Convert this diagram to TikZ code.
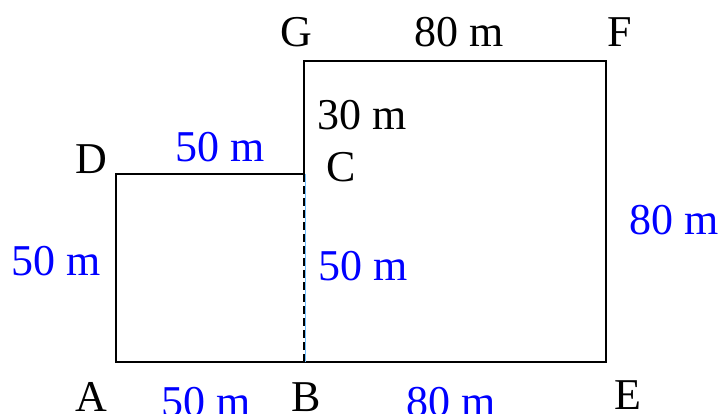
\documentclass[tikz,border=0pt]{standalone}
\usepackage{fontspec}
\setmainfont{Liberation Serif}
\definecolor{lblue}{RGB}{0,0,255}
\definecolor{skyline}{RGB}{110,190,255}
\begin{document}
\begin{tikzpicture}[x=1pt,y=-1pt,
  edge/.style={draw=black,line width=1.2pt},
  lbl/.style={font=\fontsize{44}{48}\selectfont,anchor=base,inner sep=0pt,text=black},
  meas/.style={lbl,text=lblue}]
\useasboundingbox (0,0) rectangle (723,414);
\coordinate (A) at (116,362);
\coordinate (B) at (304,362);
\coordinate (E) at (606,362);
\coordinate (F) at (606,61);
\coordinate (G) at (304,61);
\coordinate (C) at (304,174);
\coordinate (D) at (116,174);
\draw[edge] (C) -- (D) -- (A) -- (E) -- (F) -- (G) -- (C);
\draw[draw=skyline,line width=1pt] ([xshift=1.5pt]C) -- ([xshift=1.5pt]B);
\draw[edge,dash pattern=on 8pt off 4pt] (C) -- (B);
% point labels
\node[lbl] (lA) at (91,411) {A};
\node[lbl] (lB) at (306,411) {B};
\node[lbl] (lE) at (628,409) {E};
\node[lbl] (lD) at (91,174) {D};
\node[lbl] (lC) at (341,182) {C};
\node[lbl] (lG) at (296,47) {G};
\node[lbl] (lF) at (620,47) {F};
% measures
\node[lbl] (mGF) at (459,47) {80 m};
\node[lbl] (mGC) at (362,130) {30 m};
\node[meas] (mDC) at (220,162) {50 m};
\node[meas] (mDA) at (56,276) {50 m};
\node[meas] (mCB) at (363,280) {50 m};
\node[meas] (mEF) at (674,235) {80 m};
\node[meas] (mAB) at (206,416) {50 m};
\node[meas] (mBE) at (451,416) {80 m};
\end{tikzpicture}
\end{document}
